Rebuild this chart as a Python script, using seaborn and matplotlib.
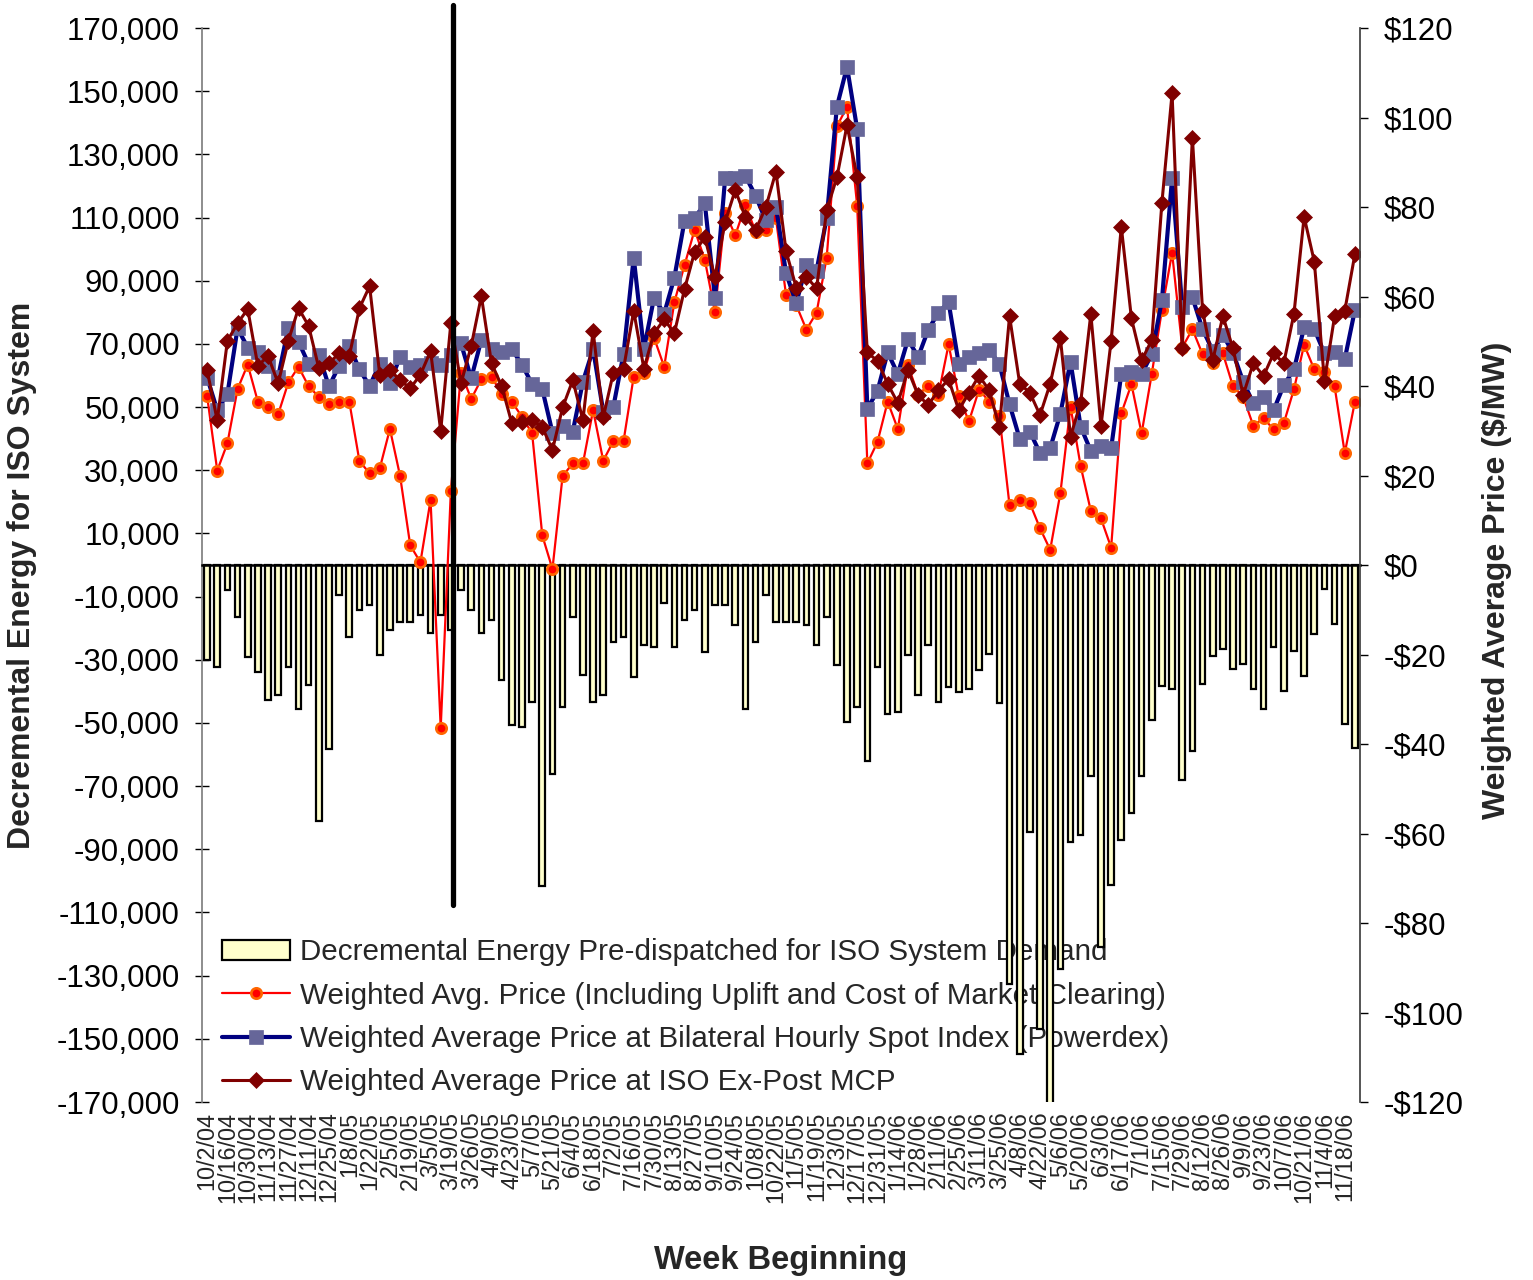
import numpy as np
import matplotlib
matplotlib.use("Agg")
import matplotlib.pyplot as plt
import seaborn as sns
from matplotlib.patches import Patch
from matplotlib.lines import Line2D
from matplotlib.ticker import FuncFormatter

# tick labels on the category axis (every second week)
week_labels = ["10/2/04", "10/16/04", "10/30/04", "11/13/04", "11/27/04", "12/11/04", "12/25/04",
               "1/8/05", "1/22/05", "2/5/05", "2/19/05", "3/5/05", "3/19/05", "3/26/05", "4/9/05",
               "4/23/05", "5/7/05", "5/21/05", "6/4/05", "6/18/05", "7/2/05", "7/16/05", "7/30/05",
               "8/13/05", "8/27/05", "9/10/05", "9/24/05", "10/8/05", "10/22/05", "11/5/05", "11/19/05",
               "12/3/05", "12/17/05", "12/31/05", "1/14/06", "1/28/06", "2/11/06", "2/25/06", "3/11/06",
               "3/25/06", "4/8/06", "4/22/06", "5/6/06", "5/20/06", "6/3/06", "6/17/06", "7/1/06",
               "7/15/06", "7/29/06", "8/12/06", "8/26/06", "9/9/06", "9/23/06", "10/7/06", "10/21/06",
               "11/4/06", "11/18/06"]

# decremental energy pre-dispatched (MWh per week)
decremental = [-30000, -32400, -7900, -16600, -29200, -34000, -42600, -41000, -32400, -45700,
               -37900, -80900, -58200, -9600, -22900, -14200, -12800, -28400, -20600, -18100,
               -18100, -15800, -21400, -15800, -20600, -7900, -14200, -21400, -17400, -36300,
               -50500, -51200, -43400, -101500, -66100, -45000, -16600, -34700, -43300, -41000,
               -24500, -22900, -35600, -25200, -26100, -11900, -26100, -17400, -14200, -27600,
               -12700, -12700, -19000, -45700, -24500, -9600, -18100, -18100, -18100, -19000,
               -25200, -16600, -31500, -49600, -44800, -62100, -32400, -47200, -46400, -28400,
               -41000, -25200, -43400, -38500, -40100, -39400, -33100, -28300, -43800, -132700,
               -154700, -84600, -146800, -175000, -127800, -87700, -85500, -66700, -120800, -101300,
               -87100, -78400, -66700, -49200, -38400, -39300, -68100, -58800, -37600, -28900,
               -26600, -32800, -31400, -39300, -45500, -25900, -39800, -27300, -35200, -21800,
               -7600, -18700, -50400, -58000]

# weighted avg price incl. uplift and cost of market clearing ($/MW)
price_uplift = [37.8, 21.1, 27.2, 39.3, 44.8, 36.5, 35.4, 33.7, 40.8, 44.3,
                39.9, 37.6, 36.0, 36.5, 36.5, 23.2, 20.5, 21.6, 30.4, 19.9,
                4.4, 0.6, 14.5, -36.4, 16.6, 43.0, 37.1, 41.5, 42.1, 38.2,
                36.5, 33.1, 29.4, 6.6, -0.9, 19.9, 22.7, 22.7, 34.6, 23.3,
                27.7, 27.7, 42.1, 43.0, 50.8, 44.3, 58.7, 67.0, 74.9, 68.2,
                56.5, 78.7, 73.7, 80.4, 74.5, 74.9, 77.5, 60.3, 58.1, 52.6,
                56.4, 68.7, 98.0, 102.4, 80.3, 22.7, 27.5, 36.5, 30.4, 44.6,
                38.1, 40.0, 38.1, 49.3, 37.7, 32.1, 39.2, 36.5, 33.3, 13.3,
                14.6, 13.8, 8.2, 3.4, 16.0, 35.4, 22.1, 12.1, 10.4, 3.9,
                33.9, 40.4, 29.4, 42.7, 57.0, 69.8, 48.6, 52.7, 47.1, 45.2,
                47.3, 39.9, 37.6, 31.1, 32.8, 30.3, 31.7, 39.3, 49.2, 43.7,
                43.2, 39.9, 25.0, 36.5]

# weighted average price at bilateral hourly spot index (Powerdex)
price_powerdex = [41.9, 34.6, 38.2, 52.9, 48.6, 47.7, 44.5, 42.1, 53.0, 49.9,
                  44.9, 46.9, 39.9, 44.5, 48.9, 43.7, 40.0, 44.9, 40.7, 46.5,
                  44.3, 44.7, 45.1, 44.7, 46.9, 49.5, 41.7, 50.3, 48.3, 47.7,
                  48.2, 44.8, 40.4, 39.3, 29.6, 31.1, 29.8, 41.0, 48.2, 34.3,
                  35.4, 47.2, 68.7, 48.2, 59.7, 56.2, 64.2, 76.9, 77.5, 80.8,
                  59.7, 86.4, 86.4, 86.9, 82.5, 77.0, 80.1, 65.2, 58.5, 67.0,
                  65.8, 77.5, 102.4, 111.3, 97.4, 34.9, 38.9, 47.5, 42.7, 50.4,
                  46.5, 52.6, 56.4, 58.7, 44.9, 46.5, 47.3, 48.1, 44.9, 35.9,
                  28.2, 29.8, 25.0, 26.1, 33.8, 45.4, 30.9, 25.5, 26.6, 26.1,
                  42.7, 43.2, 42.7, 47.1, 59.2, 86.4, 57.6, 59.8, 52.7, 47.9,
                  51.4, 47.4, 41.0, 36.1, 37.6, 34.6, 40.2, 43.7, 53.1, 52.7,
                  47.3, 47.7, 46.0, 57.0]

# weighted average price at ISO ex-post MCP
price_mcp = [43.6, 32.3, 50.1, 54.0, 57.2, 44.5, 46.7, 40.6, 50.1, 57.4,
             53.4, 44.0, 45.1, 47.3, 46.7, 57.4, 62.3, 42.5, 43.6, 41.3,
             39.5, 42.5, 47.8, 30.0, 54.1, 40.6, 48.9, 60.1, 45.1, 40.0,
             31.7, 32.0, 32.4, 30.8, 25.7, 35.2, 41.3, 32.4, 52.3, 33.0,
             43.0, 43.9, 56.8, 43.9, 51.8, 54.9, 51.8, 61.6, 70.0, 73.2,
             64.3, 76.7, 83.8, 77.7, 74.9, 79.9, 87.9, 70.1, 62.0, 64.4,
             61.8, 79.3, 86.6, 98.3, 86.6, 47.5, 45.6, 40.5, 36.2, 43.6,
             37.9, 35.8, 39.0, 41.5, 34.6, 38.5, 42.3, 39.0, 30.8, 55.6,
             40.5, 38.5, 33.5, 40.5, 50.8, 28.7, 36.3, 56.1, 31.1, 50.1,
             75.6, 55.1, 45.7, 50.3, 81.0, 105.4, 48.4, 95.5, 56.8, 45.7,
             55.6, 48.4, 38.0, 45.1, 42.2, 47.3, 45.1, 56.2, 77.8, 67.8,
             41.2, 55.6, 56.8, 69.5]

series_names = ["Decremental Energy Pre-dispatched for ISO System Demand",
                "Weighted Avg. Price (Including Uplift and Cost of Market Clearing)",
                "Weighted Average Price at Bilateral Hourly Spot Index (Powerdex)",
                "Weighted Average Price at ISO Ex-Post MCP"]

n = len(decremental)
pos = np.arange(n)

sns.set_theme(style="white")
plt.rcParams["font.family"] = ["Liberation Sans", "DejaVu Sans"]

# line styles shared by the plot and the legend
red_kw = dict(color="#FF0000", lw=1.6, marker="o", markersize=7.5, markerfacecolor="#FF0000",
              markeredgecolor="#FF6600", markeredgewidth=1.9)
blue_kw = dict(color="#000080", lw=3.0, marker="s", markersize=10, markerfacecolor="#666699",
               markeredgecolor="#666699", markeredgewidth=0.5)
mcp_kw = dict(color="#800000", lw=2.2, marker="D", markersize=8.2, markerfacecolor="#800000",
              markeredgecolor="#800000", markeredgewidth=0.5)

fig = plt.figure(figsize=(15.33, 12.8), dpi=100)
ax = fig.add_axes([0.13177, 0.13906, 0.75538, 0.83906])
ax2 = ax.twinx()

# bars on the left axis
sns.barplot(x=pos, y=decremental, native_scale=True, ax=ax, color="#FFFFCC",
            saturation=1, edgecolor="black", linewidth=1.6, width=0.55, errorbar=None)

# price lines on the right axis
sns.lineplot(x=pos, y=price_uplift, ax=ax2, **red_kw)
sns.lineplot(x=pos, y=price_powerdex, ax=ax2, **blue_kw)
sns.lineplot(x=pos, y=price_mcp, ax=ax2, **mcp_kw)

# vertical divider line
ax2.axvline(24.25, ymin=0.1834, ymax=1.0214, color="black", lw=3.8, clip_on=False, zorder=10)

ax.set_xlim(-0.5, n - 0.5)
ax.set_ylim(-170000, 170000)
ax2.set_ylim(-120, 120)

ax.set_yticks(np.arange(-170000, 170001, 20000))
ax.yaxis.set_major_formatter(FuncFormatter(lambda v, p: f"{v:,.0f}"))
ax2.set_yticks(np.arange(-120, 121, 20))
ax2.yaxis.set_major_formatter(FuncFormatter(lambda v, p: f"-${abs(v):.0f}" if v < 0 else f"${v:.0f}"))

ax.tick_params(axis="y", direction="inout", length=10, width=1, labelsize=22.5, pad=11, colors="black")
ax2.tick_params(axis="y", direction="out", length=6, width=1, labelsize=22.5, pad=11, colors="black")

# category axis sits at zero, labels at the bottom
ax.spines["bottom"].set_position(("data", 0))
ax.spines["bottom"].set_color("black")
ax.spines["bottom"].set_linewidth(1.8)
ax.set_xticks(np.arange(-0.5, n, 1))
ax.tick_params(axis="x", direction="in", length=6, width=0.8, color="#808080", labelbottom=False)
ax.set_xlabel("")
ax.set_ylabel("")
ax2.set_ylabel("")

secax = ax.secondary_xaxis("bottom")
secax.set_xticks(pos[::2], labels=week_labels)
secax.tick_params(length=0, pad=7, labelsize=16.8, labelrotation=90)
secax.spines["bottom"].set_visible(False)

for a in (ax, ax2):
    a.spines["top"].set_visible(False)
ax.spines["right"].set_visible(False)
ax2.spines["left"].set_visible(False)
ax2.spines["bottom"].set_visible(False)
ax.spines["left"].set_color("#808080")
ax2.spines["right"].set_color("#404040")
ax.grid(False)
ax2.grid(False)

handles = [
    Patch(facecolor="#FFFFCC", edgecolor="black", linewidth=1.6),
    Line2D([], [], **red_kw),
    Line2D([], [], **blue_kw),
    Line2D([], [], **mcp_kw),
]
leg = ax.legend(handles, series_names, loc="upper left", bbox_to_anchor=(0.0173, 0.1525),
                frameon=False, fontsize=21.3, handlelength=2.3, handletextpad=0.35,
                labelspacing=0.52, borderpad=0, borderaxespad=0)
leg.set_zorder(0.5)

fig.text(22 / 1533, 1 - 575 / 1280, "Decremental Energy for ISO System", rotation=90,
         ha="center", va="center", fontsize=23, fontweight="bold")
fig.text(1497 / 1533, 1 - 580 / 1280, "Weighted Average Price ($/MW)", rotation=90,
         ha="center", va="center", fontsize=23, fontweight="bold")
fig.text(781 / 1533, 1 - 1260 / 1280, "Week Beginning", ha="center", va="center",
         fontsize=23.5, fontweight="bold")

fig.savefig("out.png", dpi=100)
